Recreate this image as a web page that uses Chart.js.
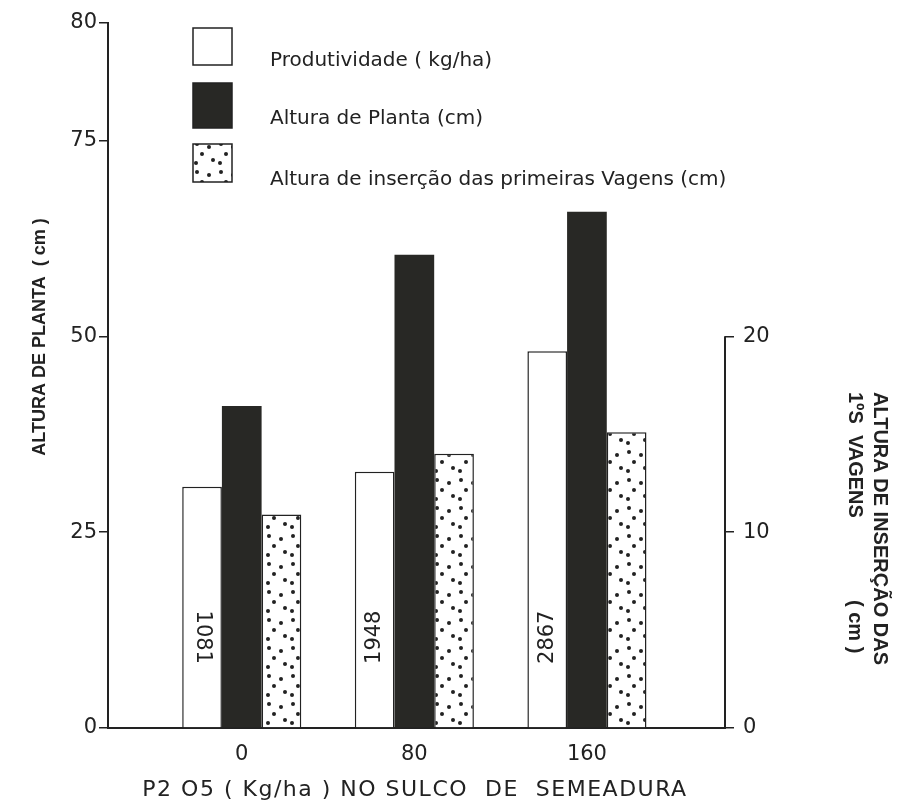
<!DOCTYPE html>
<html>
<head>
<meta charset="utf-8">
<script src="https://cdn.jsdelivr.net/npm/chart.js@4.4.1/dist/chart.umd.min.js"></script>
<style>
  html, body { margin: 0; background: #fff; }
</style>
</head>
<body>
<canvas id="chart" width="902" height="806"></canvas>
<script>
// P2O5 doses (kg/ha) on the x axis
const doses = [0, 80, 160];
// productivity, printed inside the white bars
const produtividade = [1081, 1948, 2867];
// white bar heights as drawn, read against the left axis
const produtividadeBar = [30.8, 32.7, 48.1];
// plant height (cm), left axis
const alturaPlanta = [41.1, 60.4, 65.9];
// height of first pod insertion (cm), right axis
const alturaVagens = [10.9, 14.0, 15.1];

// the source axis is broken at the top: "80" sits at the end of the line
const leftTicks = [0, 25, 50, 75, 90];
const leftTickLabels = ["0", "25", "50", "75", "80"];
const rightTicks = [0, 10, 20];

const seriesLabels = [
  "Produtividade ( kg/ha)",
  "Altura de Planta (cm)",
  "Altura de inserção das primeiras Vagens (cm)"
];

const INK = "#222";
const DARK = "#282825";
const tickFont = { family: "DejaVu Sans", size: 21 };

function dotPattern() {
  const c = document.createElement("canvas");
  c.width = 24; c.height = 28;
  const g = c.getContext("2d");
  g.fillStyle = "#fff";
  g.fillRect(0, 0, c.width, c.height);
  g.fillStyle = INK;
  [[5, 4], [17, 7], [10, 14], [21, 20], [4, 23]].forEach(([x, y]) => {
    g.beginPath();
    g.arc(x, y, 2, 0, Math.PI * 2);
    g.fill();
  });
  return g.createPattern(c, "repeat");
}
const dots = dotPattern();

const toPoints = vals => doses.map((d, i) => ({ x: d, y: vals[i] }));

function spaced(ctx, px) {
  if ("letterSpacing" in ctx) ctx.letterSpacing = px + "px";
}

// legend, value labels, axis titles, short right axis line
const decor = {
  id: "decor",
  afterDraw(chart) {
    const { ctx, chartArea, scales } = chart;
    ctx.save();

    // right axis only runs 0..20
    ctx.strokeStyle = INK;
    ctx.lineWidth = 2;
    ctx.beginPath();
    ctx.moveTo(chartArea.right, scales.y2.getPixelForValue(0) + 1);
    ctx.lineTo(chartArea.right, scales.y2.getPixelForValue(rightTicks[rightTicks.length - 1]));
    ctx.stroke();

    // legend
    const fills = ["#fff", DARK, dots];
    const tops = [28, 83, 144];
    const heights = [37, 45, 38];
    const textY = [61, 119, 180];
    ctx.font = "20px 'DejaVu Sans'";
    ctx.textBaseline = "middle";
    ctx.textAlign = "left";
    seriesLabels.forEach((lab, i) => {
      ctx.fillStyle = fills[i];
      ctx.fillRect(193, tops[i], 39, heights[i]);
      ctx.lineWidth = 1.5;
      ctx.strokeStyle = INK;
      ctx.strokeRect(193, tops[i], 39, heights[i]);
      ctx.fillStyle = INK;
      ctx.fillText(lab, 270, textY[i]);
    });

    // productivity values inside the white bars
    const meta = chart.getDatasetMeta(0);
    ctx.font = "21px 'DejaVu Sans'";
    ctx.textAlign = "center";
    meta.data.forEach((bar, i) => {
      ctx.save();
      ctx.translate(bar.x, bar.base - 90);
      ctx.rotate(i === 0 ? Math.PI / 2 : -Math.PI / 2);
      ctx.fillText(String(produtividade[i]), 0, 0);
      ctx.restore();
    });

    // axis titles
    ctx.font = "bold 18px 'Liberation Sans'";
    ctx.save();
    ctx.translate(40, 337);
    ctx.rotate(-Math.PI / 2);
    ctx.textAlign = "center";
    ctx.fillText("ALTURA DE PLANTA  ( cm )", 0, 0);
    ctx.restore();

    ctx.font = "bold 20px 'Liberation Sans'";
    ctx.textAlign = "left";
    ctx.save();
    ctx.translate(880, 392);
    ctx.rotate(Math.PI / 2);
    ctx.fillText("ALTURA DE INSERÇÃO DAS", 0, 0);
    ctx.restore();
    ctx.save();
    ctx.translate(855, 392);
    ctx.rotate(Math.PI / 2);
    ctx.fillText("1ºS  VAGENS", 0, 0);
    ctx.fillText("( cm )", 208, 0);
    ctx.restore();

    ctx.font = "22px 'DejaVu Sans'";
    spaced(ctx, 1.5);
    ctx.textAlign = "center";
    ctx.fillText("P2 O5 ( Kg/ha ) NO SULCO  DE  SEMEADURA", 415, 790);
    spaced(ctx, 0);
    ctx.restore();
  }
};

new Chart(document.getElementById("chart").getContext("2d"), {
  type: "bar",
  data: {
    datasets: [
      { label: seriesLabels[0], data: toPoints(produtividadeBar), backgroundColor: "#fff",
        borderColor: INK, borderWidth: 1.5, yAxisID: "y" },
      { label: seriesLabels[1], data: toPoints(alturaPlanta), backgroundColor: DARK,
        borderColor: DARK, borderWidth: 0, yAxisID: "y" },
      { label: seriesLabels[2], data: toPoints(alturaVagens), backgroundColor: dots,
        borderColor: INK, borderWidth: 1.5, yAxisID: "y2" }
    ]
  },
  options: {
    responsive: false,
    animation: false,
    devicePixelRatio: 1,
    categoryPercentage: 0.69,
    barPercentage: 1,
    layout: { padding: { top: 23, left: 0, right: 0, bottom: 0 } },
    plugins: { legend: { display: false }, tooltip: { enabled: false } },
    scales: {
      x: {
        type: "linear", min: -62, max: 224, offset: false,
        afterBuildTicks: s => { s.ticks = doses.map(v => ({ value: v })); },
        afterFit: s => { s.height = 78; },
        grid: { display: false },
        border: { display: true, color: INK, width: 2 },
        ticks: { font: tickFont, color: INK, padding: 6, callback: v => String(v) }
      },
      y: {
        position: "left", min: 0, max: 90,
        afterBuildTicks: s => { s.ticks = leftTicks.map(v => ({ value: v })); },
        afterFit: s => { s.width = 108; },
        grid: { drawOnChartArea: false, drawTicks: true, tickLength: 9, color: INK, lineWidth: 1.5 },
        border: { display: true, color: INK, width: 2 },
        ticks: { font: tickFont, color: INK, padding: 2, callback: (v, i) => leftTickLabels[i] }
      },
      y2: {
        position: "right", min: 0, max: 36,
        afterBuildTicks: s => { s.ticks = rightTicks.map(v => ({ value: v })); },
        afterFit: s => { s.width = 177; },
        grid: { drawOnChartArea: false, drawTicks: true, tickLength: 9, color: INK, lineWidth: 1.5 },
        border: { display: false },
        ticks: { font: tickFont, color: INK, padding: 9, callback: v => String(v) }
      }
    }
  },
  plugins: [decor]
});
</script>
</body>
</html>
